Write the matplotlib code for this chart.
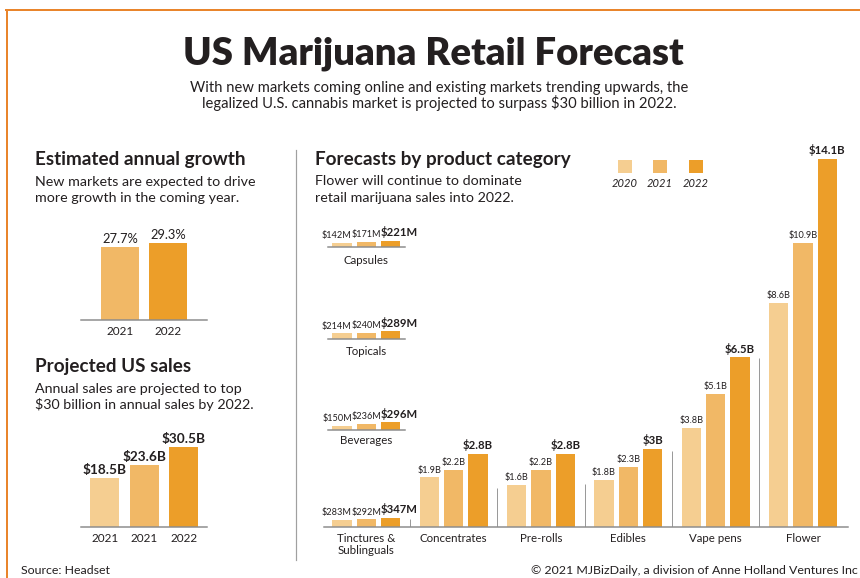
import matplotlib
matplotlib.use("Agg")
import matplotlib.pyplot as plt
from matplotlib.patches import Rectangle

plt.rcParams['font.family'] = ['Lato', 'DejaVu Sans']

# ---------------- data ----------------
years = ["2020", "2021", "2022"]

growth_years = ["2021", "2022"]
growth_pct = [27.7, 29.3]

sales_years = ["2021", "2021", "2022"]
sales_bn = [18.5, 23.6, 30.5]

main_categories = ["Tinctures &\nSublinguals", "Concentrates", "Pre-rolls",
                   "Edibles", "Vape pens", "Flower"]
main_2020 = [0.283, 1.9, 1.6, 1.8, 3.8, 8.6]
main_2021 = [0.292, 2.2, 2.2, 2.3, 5.1, 10.9]
main_2022 = [0.347, 2.8, 2.8, 3.0, 6.5, 14.1]

small_categories = ["Capsules", "Topicals", "Beverages"]
small_2020 = [0.142, 0.214, 0.150]
small_2021 = [0.171, 0.240, 0.236]
small_2022 = [0.221, 0.289, 0.296]

# ---------------- style ----------------
W, H = 860, 578
PT = 72 / 100                      # points per pixel at 100 dpi
C_YEAR = ["#F5CE91", "#F1B866", "#EC9E29"]
ORANGE = "#E9852C"
GRAY = "#8C8C8C"
TXT = "#231F20"

fig = plt.figure(figsize=(W / 100, H / 100), dpi=100)
fig.patch.set_facecolor("white")

# pixel-space canvas for frame, headings and legend
bg = fig.add_axes([0, 0, 1, 1])
bg.set_xlim(0, W)
bg.set_ylim(H, 0)
bg.axis("off")
bg.plot([5, W], [10, 10], color=ORANGE, lw=2 * PT, solid_capstyle="butt")
bg.plot([7, 7], [10, H], color=ORANGE, lw=2 * PT, solid_capstyle="butt")
bg.plot([296, 296], [150, 560], color="#A0A0A0", lw=1.2 * PT)

bg.text(433, 64.3, "US Marijuana Retail Forecast", ha="center", va="baseline",
        fontsize=27.5, weight="heavy", color=TXT)
bg.text(439, 91.7, "With new markets coming online and existing markets trending upwards, the",
        ha="center", va="baseline", fontsize=10.6, color=TXT)
bg.text(439, 108, "legalized U.S. cannabis market is projected to surpass $30 billion in 2022.",
        ha="center", va="baseline", fontsize=10.6, color=TXT)

HEAD = 13.6
SUB = 10.3
bg.text(35, 165, "Estimated annual growth", ha="left", va="baseline",
        fontsize=HEAD, weight="bold", color=TXT)
bg.text(35, 185.7, "New markets are expected to drive", ha="left", va="baseline",
        fontsize=SUB, color=TXT)
bg.text(35, 201.7, "more growth in the coming year.", ha="left", va="baseline",
        fontsize=SUB, color=TXT)

bg.text(35, 371.7, "Projected US sales", ha="left", va="baseline",
        fontsize=HEAD, weight="bold", color=TXT)
bg.text(35, 392.7, "Annual sales are projected to top", ha="left", va="baseline",
        fontsize=SUB, color=TXT)
bg.text(35, 409.3, "$30 billion in annual sales by 2022.", ha="left", va="baseline",
        fontsize=SUB, color=TXT)

bg.text(315, 165, "Forecasts by product category", ha="left", va="baseline",
        fontsize=HEAD, weight="bold", color=TXT)
bg.text(315, 185, "Flower will continue to dominate", ha="left", va="baseline",
        fontsize=SUB, color=TXT)
bg.text(315, 201.7, "retail marijuana sales into 2022.", ha="left", va="baseline",
        fontsize=SUB, color=TXT)

bg.text(20.7, 570.7, "Source: Headset", ha="left", va="center", fontsize=8.9, color=TXT)
bg.text(858, 570.7, "\u00a9 2021 MJBizDaily, a division of Anne Holland Ventures Inc",
        ha="right", va="center", fontsize=8.9, color=TXT)

# legend
for yr, col, cx in zip(years, C_YEAR, [625, 659.5, 696]):
    bg.add_patch(Rectangle((cx - 7, 160), 14, 13, facecolor=col, edgecolor="none"))
    bg.text(cx, 183.3, yr, ha="center", va="center", fontsize=8,
            style="italic", color=TXT)


def panel(left, right, base, top, c0, step, scale):
    """Axes placed in pixel space: category i sits at x = c0 + i*step px,
    one data unit on y spans `scale` px."""
    ax = fig.add_axes([left / W, 1 - base / H, (right - left) / W, (base - top) / H])
    ax.patch.set_alpha(0)
    for s in ("top", "left", "right"):
        ax.spines[s].set_visible(False)
    ax.spines["bottom"].set_color(GRAY)
    ax.spines["bottom"].set_linewidth(1.5 * PT)
    ax.set_xlim((left - c0) / step, (right - c0) / step)
    ax.set_ylim(0, (base - top) / scale)
    ax.set_yticks([])
    ax.tick_params(axis="x", length=0, colors=TXT)
    return ax


# ---- estimated annual growth ----
g_step = 47.8
ax = panel(81, 207, 320.3, 215, 120, g_step, 2.63)
gx = list(range(len(growth_pct)))
ax.bar(gx, growth_pct, width=38.6 / g_step, color=C_YEAR[1:], edgecolor="none")
for x, v in zip(gx, growth_pct):
    ax.annotate(f"{v:.1f}%", (x, v), xytext=(0, 8 * PT), textcoords="offset points",
                ha="center", va="center", fontsize=9.3, color=TXT)
ax.set_xticks(gx, growth_years, fontsize=8.5)
ax.tick_params(axis="x", pad=4.2)

# ---- projected US sales ----
s_step = 39.4
ax = panel(81, 207, 527, 420, 104.9, s_step, 2.63)
sx = list(range(len(sales_bn)))
ax.bar(sx, sales_bn, width=29 / s_step, color=C_YEAR, edgecolor="none")
for x, v in zip(sx, sales_bn):
    ax.annotate(f"${v:.1f}B", (x, v), xytext=(0, 8.2 * PT), textcoords="offset points",
                ha="center", va="center", fontsize=9.8, weight="bold", color=TXT)
ax.set_xticks(sx, sales_years, fontsize=8.5)
ax.tick_params(axis="x", pad=4.4)

# ---- product categories ----
M_STEP = 87.34          # px between category groups
M_C0 = 366.3            # px centre of first group
M_SCALE = 26.1          # px per $1B
BAR_W = 19.5 / M_STEP
BAR_OFF = 24.3 / M_STEP


def money(v):
    return f"${v * 1000:.0f}M" if v < 1 else f"${v:g}B"


def draw_groups(ax, xs, series):
    for k, (vals, col) in enumerate(zip(series, C_YEAR)):
        for x, v in zip(xs, vals):
            bx = x + (k - 1) * BAR_OFF
            ax.bar(bx, v, width=BAR_W, color=col, edgecolor="none")
            if k == 2:
                fs, wt, dy = 8.2, "bold", 8.7
            else:
                fs, wt, dy = 6.6, "normal", 7.3
            if v < 1 and k == 0:
                px, ha = bx + BAR_W / 2, "right"
            elif v < 1 and k == 2:
                px, ha = bx - BAR_W / 2, "left"
            else:
                px, ha = bx, "center"
            ax.annotate(money(v), (px, v), xytext=(0, dy * PT), textcoords="offset points",
                        ha=ha, va="center", fontsize=fs, weight=wt, color=TXT)


ax = panel(324, 848, 527, 140, M_C0, M_STEP, M_SCALE)
mx = list(range(len(main_categories)))
draw_groups(ax, mx, [main_2020, main_2021, main_2022])
ax.set_xticks(mx, main_categories, fontsize=8.3)
ax.tick_params(axis="x", pad=4.1)
sep_px = [8, 39, 43, 76, 169]
for i, h in enumerate(sep_px):
    ax.vlines(i + 0.5, 0, h / M_SCALE, color="#9A9A9A", lw=1 * PT)

for name, v0, v1, v2, base, pad in zip(small_categories, small_2020, small_2021, small_2022,
                                        [246.7, 339, 430], [5.9, 5.3, 3.6]):
    ax = panel(328, 405, base, base - 30, M_C0, M_STEP, M_SCALE)
    draw_groups(ax, [0], [[v0], [v1], [v2]])
    ax.set_xticks([0], [name], fontsize=8.3)
    ax.tick_params(axis="x", pad=pad)

fig.savefig("out.png", dpi=100, facecolor="white")
